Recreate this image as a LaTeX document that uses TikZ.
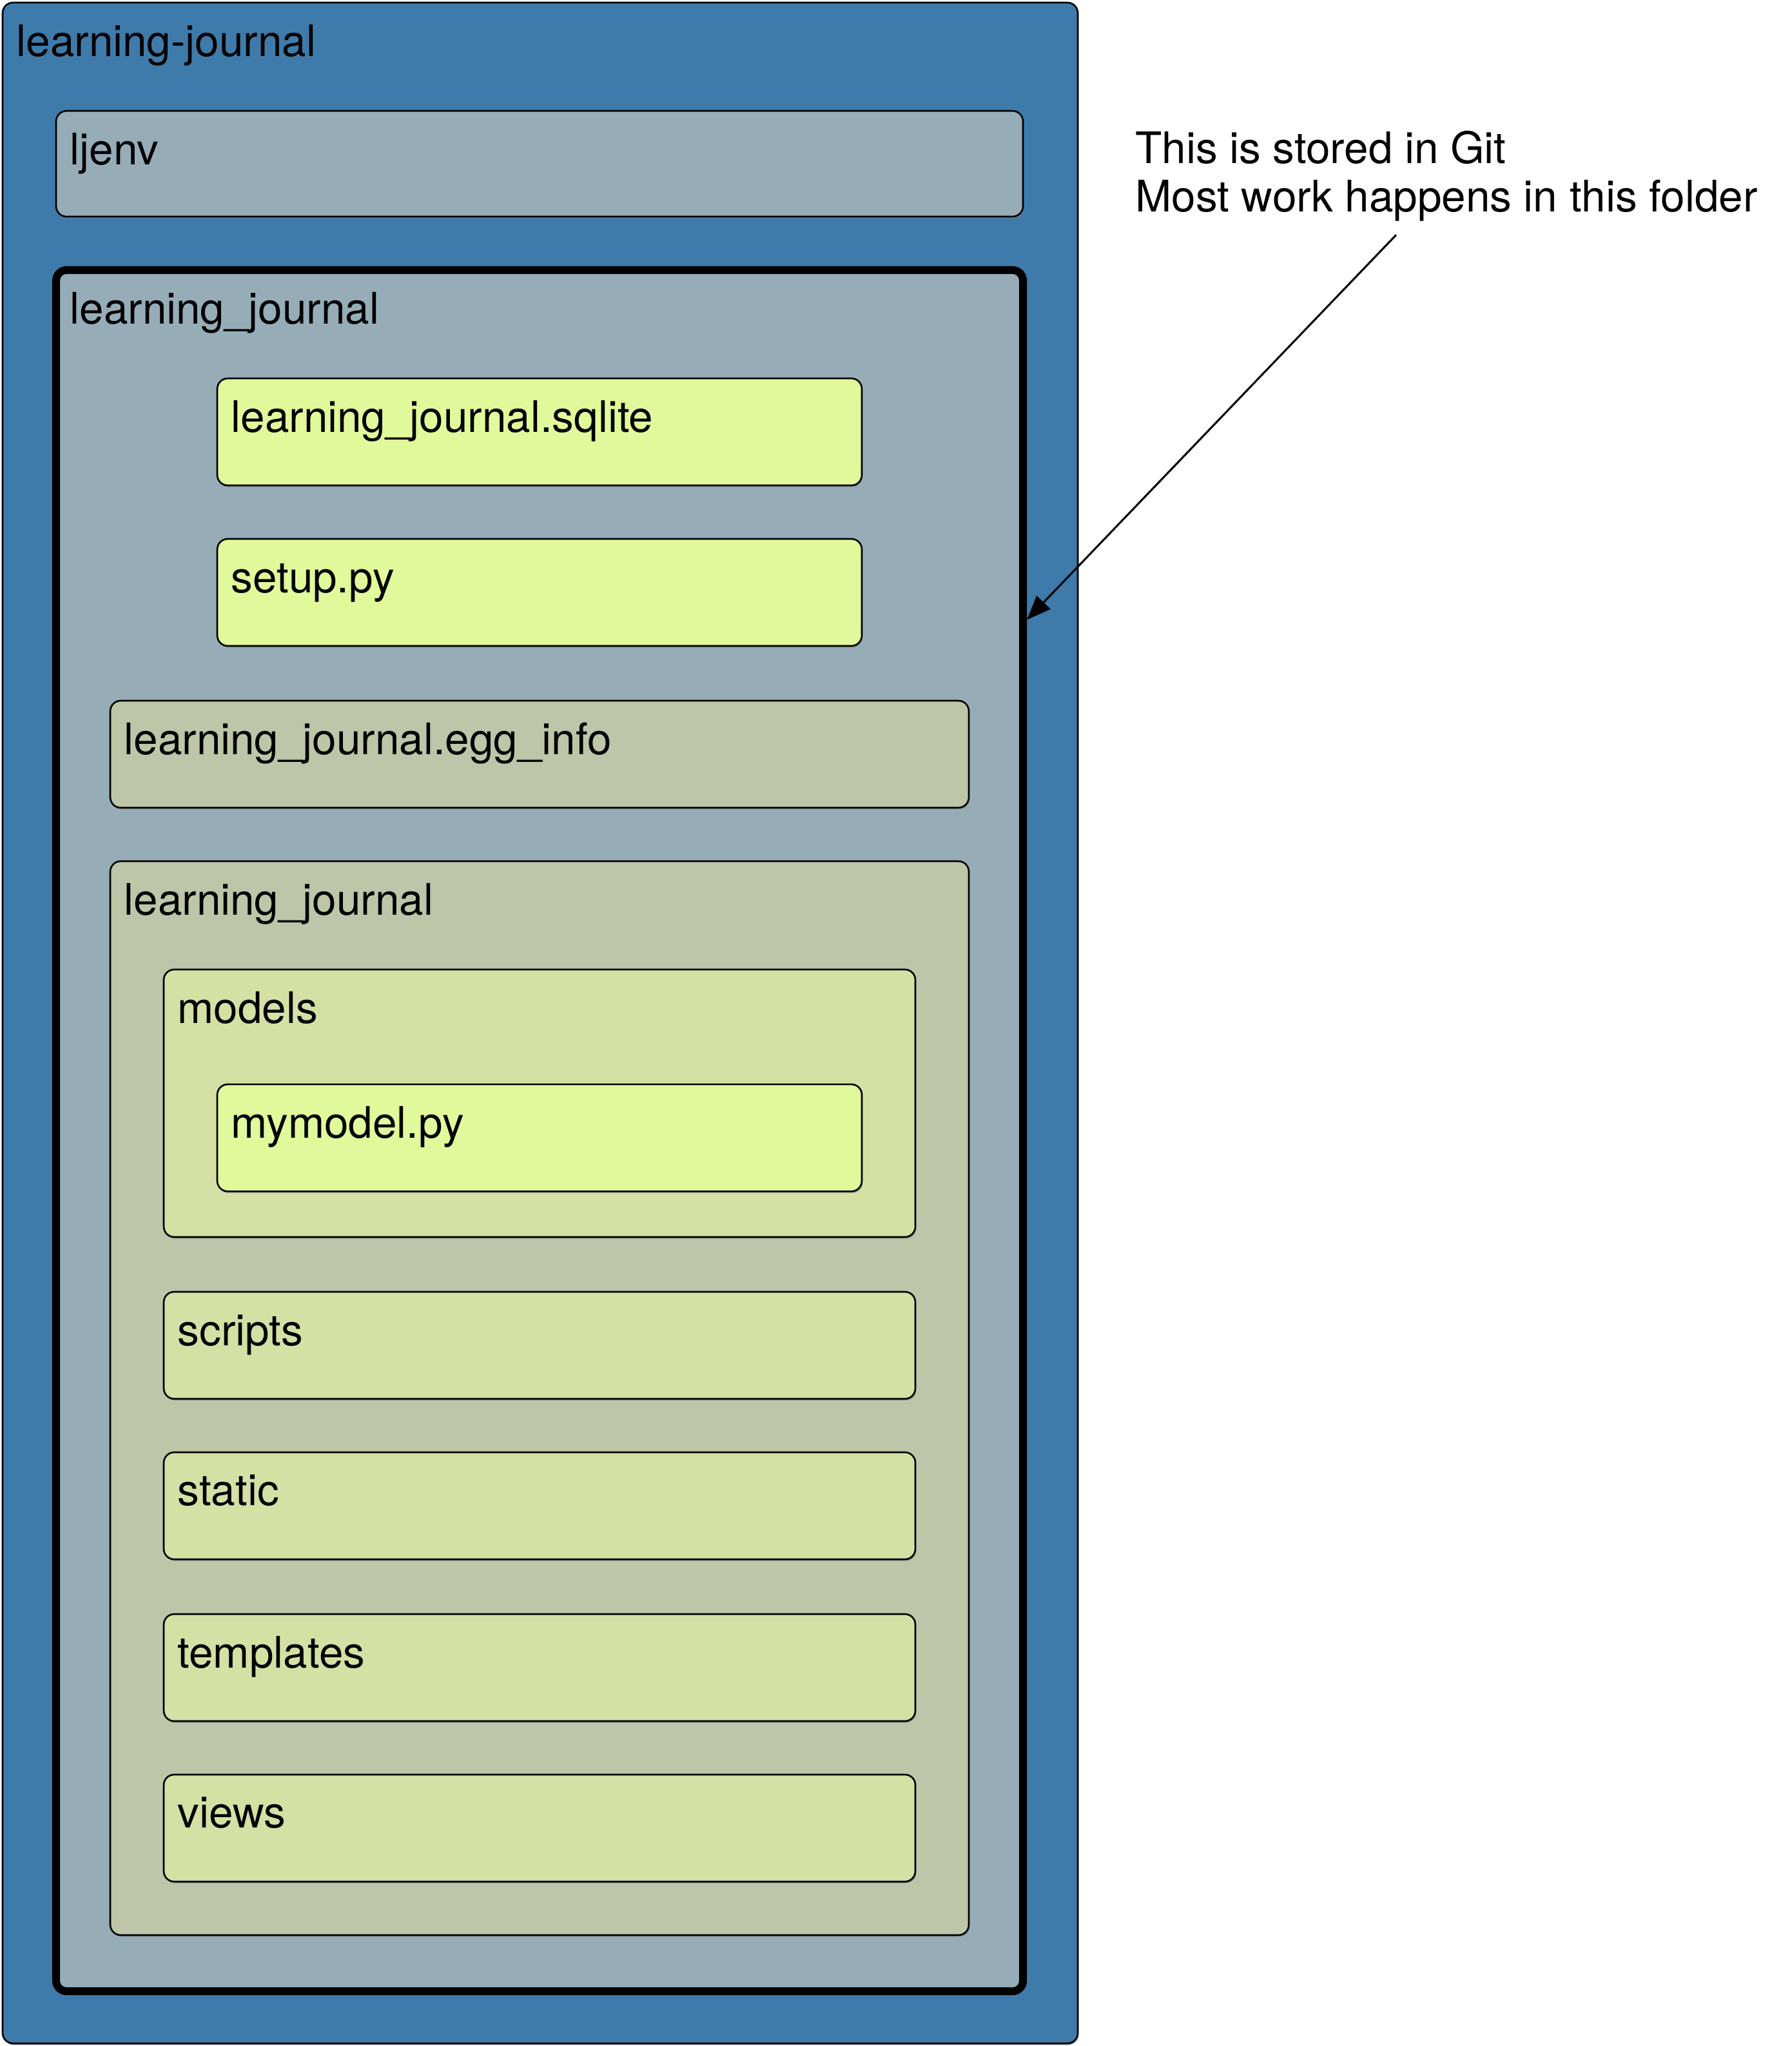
\documentclass[tikz,border=0pt]{standalone}
\usepackage{fontspec}
\setmainfont{TeX Gyre Heros}
\usetikzlibrary{positioning,arrows.meta,shadows}
\definecolor{Harbour}{RGB}{62,123,171}
\definecolor{Slate}{RGB}{150,173,184}
\definecolor{Sage}{RGB}{190,197,168}
\definecolor{Moss}{RGB}{213,224,164}
\definecolor{Lime}{RGB}{225,248,155}

\begin{document}
\begin{tikzpicture}[x=1pt,y=1pt,
    folder/.style={rectangle,rounded corners=8pt,draw=black,line width=1.3pt,inner sep=0pt,outer sep=0pt,drop shadow={shadow xshift=0.6pt,shadow yshift=-1.2pt,opacity=0.85}},
    repo/.style={folder,fill=Slate,minimum width=741pt},
    pkg/.style={folder,fill=Sage,minimum width=658pt},
    subdir/.style={folder,fill=Moss,minimum width=576pt,minimum height=82pt},
    file/.style={folder,fill=Lime,minimum width=494pt,minimum height=82pt},
    tag/.style={anchor=base west,inner sep=0pt,font=\fontsize{33.3}{37.5}\selectfont},
    pointer/.style={-{Triangle[length=18.5pt,width=14.5pt]},line width=1.5pt}
]
\useasboundingbox (0,0) rectangle (1373,-1568);

% Project folder
\node[folder,fill=Harbour,minimum width=824pt,minimum height=1564pt,anchor=north west] (root) at (2,-2) {};
\node[tag] (root-tag) at ([xshift=10.5pt,yshift=-41pt]root.north west) {learning-journal};

% Virtual environment
\node[repo,minimum height=81pt,below right=83pt and 41pt of root.north west] (ljenv) {};
\node[tag] (ljenv-tag) at ([xshift=10.5pt,yshift=-41pt]ljenv.north west) {ljenv};

% Git repository (highlighted)
\node[repo,line width=6pt,minimum height=1319pt,below=41pt of ljenv] (repo) {};
\node[tag] (repo-tag) at ([xshift=10.5pt,yshift=-41pt]repo.north west) {learning\_journal};

% Files in the repository
\node[file,below=83pt of repo.north] (sqlite) {};
\node[tag] (sqlite-tag) at ([xshift=10.5pt,yshift=-41pt]sqlite.north west) {learning\_journal.sqlite};

\node[file,below=41pt of sqlite] (setup) {};
\node[tag] (setup-tag) at ([xshift=10.5pt,yshift=-41pt]setup.north west) {setup.py};

\node[pkg,minimum height=82pt,below=42pt of setup] (egg) {};
\node[tag] (egg-tag) at ([xshift=10.5pt,yshift=-41pt]egg.north west) {learning\_journal.egg\_info};

% Package folder
\node[pkg,minimum height=823pt,below=41pt of egg] (pkg) {};
\node[tag] (pkg-tag) at ([xshift=10.5pt,yshift=-41pt]pkg.north west) {learning\_journal};

\node[subdir,minimum height=205pt,below=83pt of pkg.north] (models) {};
\node[tag] (models-tag) at ([xshift=10.5pt,yshift=-41pt]models.north west) {models};

\node[file,below=88pt of models.north] (mymodel) {};
\node[tag] (mymodel-tag) at ([xshift=10.5pt,yshift=-41pt]mymodel.north west) {mymodel.py};

\node[subdir,below=42pt of models] (scripts) {};
\node[tag] (scripts-tag) at ([xshift=10.5pt,yshift=-41pt]scripts.north west) {scripts};

\node[subdir,below=41pt of scripts] (static) {};
\node[tag] (static-tag) at ([xshift=10.5pt,yshift=-41pt]static.north west) {static};

\node[subdir,below=42pt of static] (templates) {};
\node[tag] (templates-tag) at ([xshift=10.5pt,yshift=-41pt]templates.north west) {templates};

\node[subdir,below=41pt of templates] (views) {};
\node[tag] (views-tag) at ([xshift=10.5pt,yshift=-41pt]views.north west) {views};

% Annotation
\node[tag,align=left] (note) at (870,-162.5) {This is stored in Git\\Most work happens in this folder};
\coordinate (note-tail) at (1070,-180);
\draw[pointer] (note-tail) -- ([xshift=3pt,yshift=-268pt]repo.north east);

\end{tikzpicture}
\end{document}
